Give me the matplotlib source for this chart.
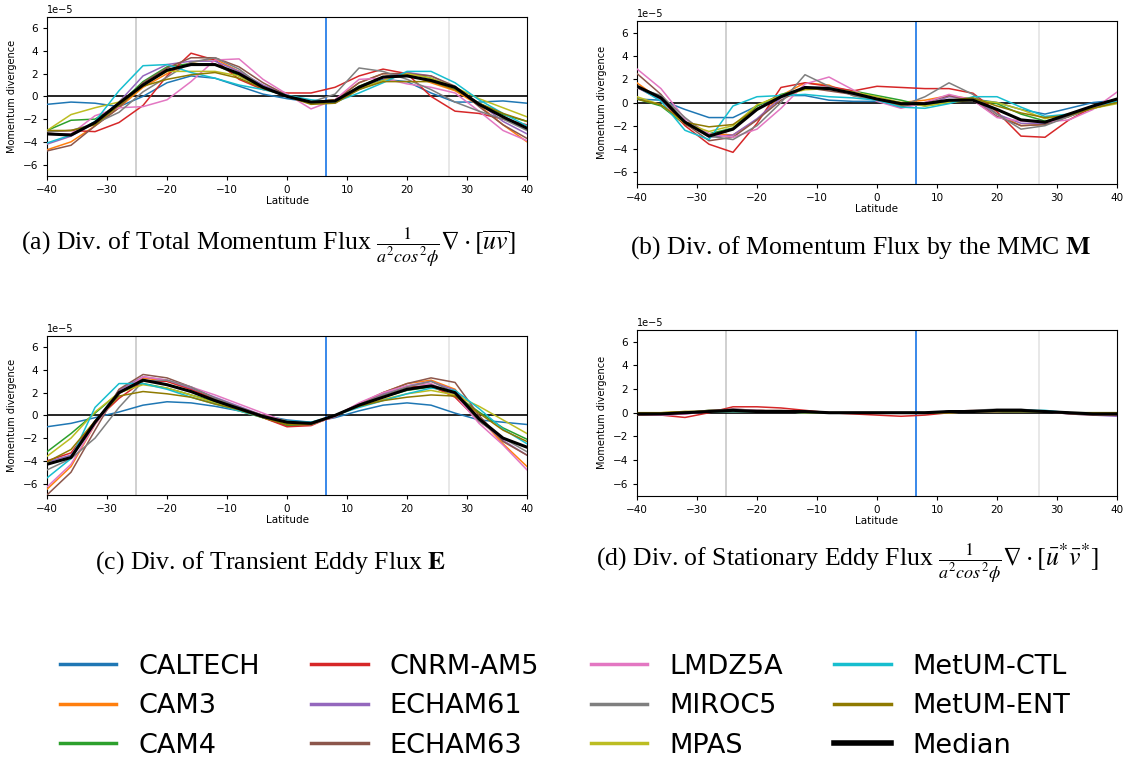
import numpy as np
import matplotlib
matplotlib.use('Agg')
import matplotlib.pyplot as plt

# latitude grid (deg)
lat = np.arange(-40, 41, 4)

models = ['CALTECH', 'CAM3', 'CAM4', 'CNRM-AM5', 'ECHAM61', 'ECHAM63',
          'LMDZ5A', 'MIROC5', 'MPAS', 'MetUM-CTL', 'MetUM-ENT', 'Median']
colors = ['#1f77b4', '#ff7f0e', '#2ca02c', '#d62728', '#9467bd', '#8c564b',
          '#e377c2', '#7f7f7f', '#bcbd22', '#17becf', '#8f7a00', 'black']

# (a) total momentum flux divergence, units of 1e-5
total = {
    'CALTECH':   [-0.7, -0.5, -0.6, -0.9, 0.0, 1.2, 1.8, 1.6, 0.9, 0.2, -0.2, -0.5, -0.3, 0.6, 1.5, 1.3, 0.3, -0.5, -0.5, -0.4, -0.6],
    'CAM3':      [-4.7, -4.0, -2.6, -1.0, 0.8, 2.0, 3.0, 3.3, 2.2, 0.9, 0.0, -0.5, -0.3, 1.2, 2.0, 2.0, 1.2, 0.5, -0.8, -2.5, -4.0],
    'CAM4':      [-3.0, -2.1, -2.0, -0.7, 1.3, 2.6, 2.9, 2.8, 1.8, 0.8, 0.0, -0.6, -0.5, 0.9, 1.7, 2.1, 1.6, 0.7, -0.6, -1.6, -2.2],
    'CNRM-AM5':  [-3.1, -3.0, -3.1, -2.3, -0.8, 1.8, 3.8, 3.2, 1.5, 0.6, 0.3, 0.3, 0.8, 1.8, 2.4, 2.0, 0.0, -1.3, -1.5, -2.0, -2.5],
    'ECHAM61':   [-4.2, -3.5, -2.3, -0.5, 1.8, 2.8, 3.1, 3.1, 2.2, 1.0, 0.1, -0.5, -0.6, 0.7, 1.7, 2.1, 1.8, 0.8, -0.6, -2.2, -3.3],
    'ECHAM63':   [-4.8, -4.3, -2.6, -1.0, 1.2, 2.5, 3.4, 3.4, 2.6, 1.2, 0.1, -0.6, -0.4, 1.2, 2.0, 2.0, 1.8, 0.9, -0.9, -2.5, -3.7],
    'LMDZ5A':    [-3.3, -3.3, -1.7, -1.0, -0.9, -0.3, 1.3, 3.2, 3.3, 1.5, 0.2, -1.1, -0.3, 1.5, 1.6, 1.1, 0.8, 0.3, -1.3, -3.0, -3.9],
    'MIROC5':    [-3.1, -3.0, -2.4, -1.4, 0.4, 1.7, 3.0, 3.4, 2.4, 0.8, 0.0, -0.5, 0.2, 2.5, 2.2, 1.5, 0.6, -0.5, -1.3, -2.0, -3.0],
    'MPAS':      [-3.0, -1.6, -1.0, -0.5, 1.0, 2.2, 2.2, 2.2, 1.8, 0.8, 0.0, -0.6, -0.4, 0.7, 1.4, 2.0, 1.6, 0.8, -0.2, -1.0, -1.8],
    'MetUM-CTL': [-4.1, -3.4, -2.2, 0.5, 2.7, 2.8, 2.1, 1.6, 1.0, 0.6, 0.1, -0.3, -0.5, 0.3, 1.2, 2.2, 2.2, 1.2, -0.3, -1.5, -2.6],
    'MetUM-ENT': [-3.0, -3.0, -2.5, -0.8, 0.9, 1.5, 1.9, 2.1, 1.6, 0.7, 0.0, -0.7, -0.6, 0.6, 1.3, 1.3, 1.3, 0.6, -0.6, -1.5, -2.2],
    'Median':    [-3.3, -3.4, -2.3, -0.6, 1.0, 2.3, 2.8, 2.8, 2.0, 0.8, 0.0, -0.5, -0.4, 0.8, 1.7, 1.8, 1.4, 0.8, -0.7, -1.8, -2.8],
}

# (b) mean meridional circulation
mmc = {
    'CALTECH':   [0.3, 0.2, -0.6, -1.3, -1.3, -0.3, 0.6, 0.6, 0.2, 0.1, 0.1, -0.1, -0.2, 0.1, 0.3, 0.0, -0.6, -1.0, -0.5, 0.0, 0.2],
    'CAM3':      [1.7, 0.2, -1.7, -2.7, -2.8, -1.5, 0.6, 1.7, 1.5, 0.6, 0.2, 0.0, 0.2, 0.6, 0.3, -1.0, -2.0, -1.9, -1.2, -0.3, 0.3],
    'CAM4':      [0.3, -0.3, -1.9, -2.7, -2.2, -0.3, 0.7, 1.2, 1.3, 1.0, 0.6, 0.2, -0.3, 0.0, 0.3, -0.1, -1.0, -1.6, -1.2, -0.5, 0.0],
    'CNRM-AM5':  [1.3, 0.3, -2.0, -3.6, -4.3, -1.8, 1.3, 1.7, 1.4, 1.0, 1.4, 1.3, 1.2, 1.2, 0.8, -0.8, -2.9, -3.0, -1.5, -0.4, 0.2],
    'ECHAM61':   [1.3, 0.2, -1.6, -3.0, -2.8, -1.4, 0.4, 1.3, 1.3, 0.8, 0.2, -0.3, -0.2, 0.5, 0.3, -1.0, -1.8, -1.8, -1.2, -0.4, 0.2],
    'ECHAM63':   [2.5, 0.7, -1.8, -3.3, -3.0, -1.5, 0.2, 1.3, 1.0, 0.7, 0.2, -0.4, 0.0, 0.6, 0.2, -1.2, -2.0, -1.9, -1.2, -0.3, 0.3],
    'LMDZ5A':    [2.9, 1.2, -1.4, -2.7, -3.0, -2.3, -0.5, 1.6, 2.2, 1.1, 0.1, -0.5, 0.0, 0.7, 0.2, -1.3, -1.6, -1.7, -1.5, -0.6, 0.9],
    'MIROC5':    [1.3, 0.6, -1.3, -2.9, -3.2, -2.0, 0.0, 2.4, 1.4, 0.6, 0.2, -0.3, 0.5, 1.7, 0.7, -1.0, -2.3, -2.0, -1.2, -0.3, 0.3],
    'MPAS':      [0.5, -0.2, -1.8, -2.5, -2.0, -0.2, 0.6, 1.1, 1.2, 0.9, 0.5, 0.0, -0.3, 0.0, 0.2, 0.0, -0.6, -1.4, -1.0, -0.5, -0.1],
    'MetUM-CTL': [1.4, 0.1, -2.4, -3.2, -0.3, 0.5, 0.6, 0.7, 0.5, 0.4, 0.2, -0.4, -0.5, -0.1, 0.5, 0.5, -0.4, -1.2, -1.0, -0.3, 0.1],
    'MetUM-ENT': [0.3, -0.2, -1.7, -2.1, -1.9, -0.5, 0.5, 1.2, 1.2, 0.8, 0.3, -0.2, -0.1, 0.2, 0.4, -0.3, -0.9, -1.3, -1.1, -0.5, 0.0],
    'Median':    [1.4, 0.4, -1.7, -2.9, -2.3, -0.6, 0.5, 1.3, 1.2, 0.8, 0.3, -0.1, -0.1, 0.2, 0.2, -0.6, -1.5, -1.7, -1.0, -0.3, 0.3],
}

# (c) transient eddies
transient = {
    'CALTECH':   [-1.0, -0.7, -0.2, 0.3, 0.9, 1.2, 1.1, 0.8, 0.4, 0.0, -0.4, -0.6, -0.2, 0.4, 0.9, 1.1, 0.9, 0.2, -0.4, -0.6, -0.8],
    'CAM3':      [-6.5, -4.5, -0.8, 2.0, 3.3, 3.0, 2.3, 1.4, 0.6, 0.0, -0.5, -0.8, -0.1, 1.0, 2.0, 2.8, 3.1, 2.3, -0.2, -2.5, -4.5],
    'CAM4':      [-3.2, -1.6, 0.2, 2.0, 2.8, 2.4, 1.8, 1.2, 0.5, -0.2, -0.9, -0.8, 0.0, 0.9, 1.6, 2.2, 2.5, 1.8, 0.3, -1.1, -2.1],
    'CNRM-AM5':  [-4.0, -3.3, -0.5, 1.5, 3.0, 3.0, 2.3, 1.4, 0.6, -0.2, -1.0, -0.9, 0.0, 1.0, 1.8, 2.5, 2.6, 1.6, -0.5, -2.0, -2.8],
    'ECHAM61':   [-4.1, -3.5, -0.6, 2.2, 3.4, 3.1, 2.4, 1.6, 0.8, 0.0, -0.6, -0.7, -0.1, 1.0, 1.9, 2.6, 3.0, 2.2, -0.4, -2.2, -3.5],
    'ECHAM63':   [-7.0, -5.0, -1.3, 2.3, 3.6, 3.3, 2.5, 1.5, 0.7, 0.0, -0.6, -0.8, -0.1, 1.0, 2.0, 2.8, 3.3, 2.9, 0.0, -2.3, -3.5],
    'LMDZ5A':    [-6.3, -4.3, -0.8, 1.9, 3.4, 3.1, 2.5, 1.8, 1.0, 0.2, -0.6, -0.8, -0.1, 1.1, 2.0, 2.6, 2.8, 1.8, -0.7, -2.6, -4.8],
    'MIROC5':    [-4.8, -3.8, -2.0, 0.7, 3.0, 3.1, 2.5, 1.5, 0.7, -0.1, -0.7, -0.8, 0.0, 0.9, 1.8, 2.5, 3.0, 2.0, -0.5, -2.0, -3.2],
    'MPAS':      [-3.6, -2.0, 0.3, 2.0, 2.7, 2.4, 1.8, 1.1, 0.4, -0.2, -0.7, -0.7, 0.0, 0.8, 1.4, 1.9, 2.2, 1.8, 0.8, -0.4, -1.6],
    'MetUM-CTL': [-5.5, -3.8, 0.7, 2.8, 2.8, 2.3, 1.6, 1.0, 0.4, -0.2, -0.5, -0.6, 0.0, 0.7, 1.3, 1.9, 2.4, 2.2, 0.6, -1.2, -2.5],
    'MetUM-ENT': [-4.1, -3.0, -0.5, 1.7, 2.1, 1.9, 1.6, 1.0, 0.5, -0.2, -0.8, -0.8, 0.0, 0.8, 1.3, 1.6, 1.8, 1.7, 0.2, -1.3, -2.3],
    'Median':    [-4.3, -3.7, -0.6, 2.0, 3.1, 2.7, 2.1, 1.3, 0.6, -0.1, -0.6, -0.7, 0.0, 0.9, 1.6, 2.3, 2.6, 2.0, -0.3, -2.0, -2.8],
}

# (d) stationary eddies
stationary = {
    'CALTECH':   [-0.1, -0.1, 0.0, 0.1, 0.1, 0.1, 0.1, 0.0, 0.0, 0.0, 0.0, 0.0, 0.0, 0.0, 0.1, 0.1, 0.1, 0.1, 0.0, 0.0, 0.0],
    'CAM3':      [-0.2, -0.2, 0.0, 0.1, 0.2, 0.2, 0.1, 0.1, 0.0, 0.0, 0.0, 0.0, 0.0, 0.1, 0.1, 0.2, 0.2, 0.1, 0.0, -0.1, -0.2],
    'CAM4':      [0.0, -0.1, 0.0, 0.2, 0.2, 0.2, 0.1, 0.1, 0.0, 0.0, 0.0, 0.0, 0.0, 0.1, 0.1, 0.2, 0.2, 0.1, 0.0, -0.1, -0.1],
    'CNRM-AM5':  [-0.1, -0.2, -0.4, 0.0, 0.5, 0.5, 0.4, 0.2, 0.0, -0.1, -0.2, -0.3, -0.2, 0.0, 0.1, 0.2, 0.2, 0.1, 0.0, -0.1, -0.2],
    'ECHAM61':   [-0.2, -0.2, -0.1, 0.1, 0.3, 0.2, 0.1, 0.1, 0.0, 0.0, 0.0, 0.0, 0.0, 0.1, 0.1, 0.2, 0.2, 0.1, -0.1, -0.2, -0.3],
    'ECHAM63':   [-0.2, -0.2, 0.0, 0.2, 0.3, 0.2, 0.2, 0.1, 0.0, 0.0, 0.0, 0.0, 0.0, 0.1, 0.2, 0.2, 0.2, 0.1, -0.1, -0.2, -0.2],
    'LMDZ5A':    [-0.1, -0.2, -0.1, 0.1, 0.2, 0.2, 0.1, 0.1, 0.0, 0.0, 0.0, 0.0, 0.0, 0.1, 0.1, 0.1, 0.2, 0.1, 0.0, -0.1, -0.1],
    'MIROC5':    [-0.1, -0.1, 0.0, 0.1, 0.2, 0.2, 0.1, 0.0, 0.0, 0.0, 0.0, 0.0, 0.0, 0.1, 0.2, 0.3, 0.3, 0.1, 0.0, -0.1, -0.1],
    'MPAS':      [0.0, 0.0, 0.1, 0.1, 0.1, 0.1, 0.1, 0.0, 0.0, 0.0, 0.0, 0.0, 0.0, 0.0, 0.1, 0.1, 0.1, 0.1, 0.0, 0.0, 0.0],
    'MetUM-CTL': [-0.1, -0.1, 0.0, 0.1, 0.1, 0.1, 0.1, 0.0, 0.0, 0.0, 0.0, 0.0, 0.0, 0.1, 0.1, 0.2, 0.2, 0.2, 0.0, -0.1, -0.1],
    'MetUM-ENT': [0.0, 0.0, 0.1, 0.1, 0.2, 0.1, 0.1, 0.0, 0.0, 0.0, 0.0, 0.0, 0.0, 0.0, 0.1, 0.1, 0.1, 0.1, 0.0, 0.0, 0.0],
    'Median':    [-0.1, -0.1, 0.0, 0.1, 0.2, 0.1, 0.1, 0.1, 0.0, 0.0, 0.0, 0.0, 0.0, 0.1, 0.1, 0.2, 0.2, 0.1, 0.0, -0.1, -0.1],
}

captions = [
    r'(a) Div. of Total Momentum Flux $\frac{1}{a^2cos^2\phi}\nabla\cdot[\overline{uv}]$',
    r'(b) Div. of Momentum Flux by the MMC $\mathbf{M}$',
    r'(c) Div. of Transient Eddy Flux $\mathbf{E}$',
    r'(d) Div. of Stationary Eddy Flux $\frac{1}{a^2cos^2\phi}\nabla\cdot\left[\bar{u}^{*}\bar{v}^{*}\right]$',
]

plt.rcParams['mathtext.fontset'] = 'stix'

fig = plt.figure(figsize=(11.3, 7.65), dpi=100)

# axes rectangles in figure fraction
rects = [
    [0.0416, 0.770, 0.4248, 0.208],
    [0.5637, 0.760, 0.4248, 0.212],
    [0.0416, 0.353, 0.4248, 0.208],
    [0.5637, 0.352, 0.4248, 0.217],
]
cap_pos = [(0.237, 0.677), (0.762, 0.677), (0.239, 0.264), (0.750, 0.264)]

for k, data in enumerate([total, mmc, transient, stationary]):
    ax = fig.add_axes(rects[k])
    ax.axvline(-25.2, color='#c8c8c8', lw=1.2)
    ax.axvline(27, color='#e4e4e4', lw=1.2)
    ax.axvline(6.5, color='#1874e6', lw=1.2)
    ax.axhline(0, color='black', lw=1.2)
    for name, c in zip(models, colors):
        lw = 2.2 if name == 'Median' else 1.1
        ax.plot(lat, np.array(data[name]) * 1e-5, color=c, lw=lw,
                zorder=5 if name == 'Median' else 3)
    ax.set_xlim(-40, 40)
    ax.set_ylim(-7e-5, 7e-5)
    ax.set_yticks(np.arange(-6, 7, 2) * 1e-5)
    ax.tick_params(labelsize=7.5, length=3)
    ax.yaxis.get_offset_text().set_fontsize(7)
    ax.set_xlabel('Latitude', fontsize=7.5, labelpad=1)
    ax.set_ylabel('Momentum divergence', fontsize=7)
    fig.text(cap_pos[k][0], cap_pos[k][1], captions[k], ha='center', va='center',
             fontsize=18.5, family='Liberation Serif')

leg_handles = [plt.Line2D([], [], color=c, lw=4 if m == 'Median' else 2.5)
               for m, c in zip(models, colors)]
fig.legend(leg_handles, models, loc='center', bbox_to_anchor=(0.5, 0.077),
           ncol=4, frameon=False, fontsize=19.5, handlelength=2.1,
           columnspacing=1.9, labelspacing=0.5, handletextpad=0.8)

fig.savefig('out.png', dpi=100)
